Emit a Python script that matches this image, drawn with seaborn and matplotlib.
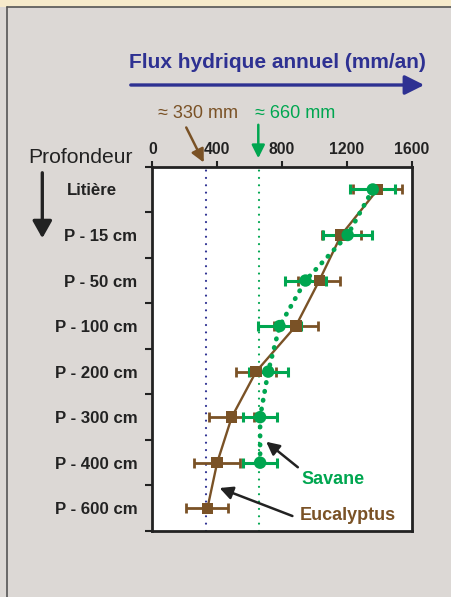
import numpy as np
import pandas as pd
import matplotlib
matplotlib.use("Agg")
import matplotlib.pyplot as plt
from matplotlib.ticker import FixedLocator
from matplotlib.patches import Rectangle, FancyArrowPatch
from matplotlib.lines import Line2D
from matplotlib.transforms import ScaledTranslation
import seaborn as sns

# ---- data ----
categories = ["Litière", "P - 15 cm", "P - 50 cm", "P - 100 cm",
              "P - 200 cm", "P - 300 cm", "P - 400 cm", "P - 600 cm"]
x_ticks = [0, 400, 800, 1200, 1600]
euc_flux = [1390, 1165, 1030, 885, 640, 490, 400, 340]
euc_err = [150, 120, 130, 135, 125, 140, 140, 130]
sav_flux = [1360, 1205, 945, 785, 715, 665, 665]
sav_err = [140, 150, 125, 130, 120, 105, 105]
ref_euc = 330
ref_sav = 660

BROWN = "#7a5226"
GREEN = "#00a650"
NAVY = "#2e3192"
BG = "#dcd8d5"
INK = "#222222"

sns.set_theme(style="white")
plt.rcParams["font.family"] = ["Liberation Sans", "DejaVu Sans"]

W, H = 451, 597
fig = plt.figure(figsize=(W / 100, H / 100), dpi=100, facecolor=BG)


def P(x, y):
    return (x / W, 1 - y / H)


# background decorations
fig.patches.append(Rectangle((0, 1 - 6.5 / H), 1, 6.5 / H, transform=fig.transFigure,
                             facecolor="#f6eacb", edgecolor="none", zorder=0))
fig.add_artist(Line2D([6.5 / W, 6.5 / W], [0, 1 - 6.5 / H], transform=fig.transFigure,
                      color="#555555", lw=1.2))
fig.add_artist(Line2D([6.5 / W, 1], [1 - 6.5 / H, 1 - 6.5 / H], transform=fig.transFigure,
                      color="#555555", lw=1.2))

ax = fig.add_axes([152.3 / W, 1 - 531 / H, (411.7 - 152.3) / W, (531 - 166.7) / H])
ax.set_facecolor("white")

pos = list(range(len(categories)))
df_euc = pd.DataFrame({"flux": euc_flux, "pos": pos, "err": euc_err})
df_sav = pd.DataFrame({"flux": sav_flux, "pos": pos[:len(sav_flux)], "err": sav_err})

# reference lines
ax.axvline(ref_euc, color=NAVY, lw=1.6, linestyle=(0, (0.01, 3.3)), dash_capstyle="round", zorder=1)
ax.axvline(ref_sav, color=GREEN, lw=1.6, linestyle=(0, (0.01, 3.3)), dash_capstyle="round", zorder=1)

# error bars
ax.errorbar(df_euc["flux"], df_euc["pos"], xerr=df_euc["err"], fmt="none",
            ecolor=BROWN, elinewidth=2.0, capsize=3.8, capthick=2.0, zorder=2)
ax.errorbar(df_sav["flux"], df_sav["pos"], xerr=df_sav["err"], fmt="none",
            ecolor=GREEN, elinewidth=2.2, capsize=3.8, capthick=2.2, zorder=3)

# lines
sns.lineplot(data=df_euc, x="flux", y="pos", orient="y", color=BROWN, lw=1.7, ax=ax, zorder=4)
sns.lineplot(data=df_sav, x="flux", y="pos", orient="y", color=GREEN, lw=3.4, ax=ax, zorder=5,
             linestyle=(0, (0.1, 1.8)), dash_capstyle="round")

# markers
sns.scatterplot(data=df_euc, x="flux", y="pos", marker="s", s=68, color=BROWN,
                edgecolor="none", ax=ax, zorder=6)
sns.scatterplot(data=df_sav, x="flux", y="pos", marker="o", s=80, color=GREEN,
                edgecolor="none", ax=ax, zorder=7)

ax.set_xlim(0, 1600)
ax.set_ylim(len(categories) - 0.5, -0.5)
ax.set_xlabel("")
ax.set_ylabel("")

ax.xaxis.tick_top()
ax.set_xticks(x_ticks)
ax.set_xticklabels([str(v) for v in x_ticks], fontweight="bold", fontsize=11.3, color=INK)
ax.tick_params(axis="x", which="major", direction="out", length=4, width=1.5, pad=3, colors=INK)

ax.set_yticks(pos)
ax.set_yticklabels(categories, fontweight="bold", fontsize=12.1, color=INK)
ax.yaxis.set_minor_locator(FixedLocator(np.arange(-0.5, len(categories), 1.0)))
ax.tick_params(axis="y", which="major", length=0, pad=10.8)
ax.tick_params(axis="y", which="minor", direction="out", length=5, width=1.5, color=INK, left=True)

# first category label sits a little further left in the reference
lab0 = ax.yaxis.get_major_ticks()[0].label1
lab0.set_transform(lab0.get_transform() + ScaledTranslation(-20 / 100, 0, fig.dpi_scale_trans))

for sp in ax.spines.values():
    sp.set_visible(True)
    sp.set_color(INK)
    sp.set_linewidth(2.0)

# title + arrow
fig.text(*P(277, 63), "Flux hydrique annuel (mm/an)", color=NAVY, fontsize=15,
         fontweight="bold", ha="center", va="center")
fig.add_artist(FancyArrowPatch(P(128, 85), P(427, 85), transform=fig.transFigure,
               arrowstyle="-|>,head_length=9,head_width=4.5", color=NAVY, lw=2.4, mutation_scale=1.3))

# reference annotations
fig.text(*P(198, 113), "≈ 330 mm", color=BROWN, fontsize=13, ha="center", va="center")
fig.text(*P(295, 113), "≈ 660 mm", color=GREEN, fontsize=13, ha="center", va="center")
fig.add_artist(FancyArrowPatch(P(185, 125), P(205, 165), transform=fig.transFigure,
               arrowstyle="-|>,head_length=6,head_width=3", color=BROWN, lw=1.8, mutation_scale=1.3))
fig.add_artist(FancyArrowPatch(P(258.3, 122), P(258.3, 161), transform=fig.transFigure,
               arrowstyle="-|>,head_length=6,head_width=3", color=GREEN, lw=1.8, mutation_scale=1.3))

# Profondeur label + arrow
fig.text(*P(80, 157), "Profondeur", color=INK, fontsize=15.2, ha="center", va="center")
fig.add_artist(FancyArrowPatch(P(42.3, 170), P(42.3, 241), transform=fig.transFigure,
               arrowstyle="-|>,head_length=8,head_width=4.5", color=INK, lw=2.4, mutation_scale=1.3))

# series labels with arrows
fig.text(*P(301, 479), "Savane", color=GREEN, fontsize=13, fontweight="bold", ha="left", va="center")
fig.text(*P(300, 515), "Eucalyptus", color=BROWN, fontsize=13, fontweight="bold", ha="left", va="center")
fig.add_artist(FancyArrowPatch(P(300, 469), P(264, 440), transform=fig.transFigure,
               arrowstyle="-|>,head_length=6,head_width=3", color=INK, lw=1.8, mutation_scale=1.3))
fig.add_artist(FancyArrowPatch(P(295, 517), P(217, 487), transform=fig.transFigure,
               arrowstyle="-|>,head_length=6,head_width=3", color=INK, lw=1.8, mutation_scale=1.3))

fig.savefig("out.png", dpi=100, facecolor=BG)
